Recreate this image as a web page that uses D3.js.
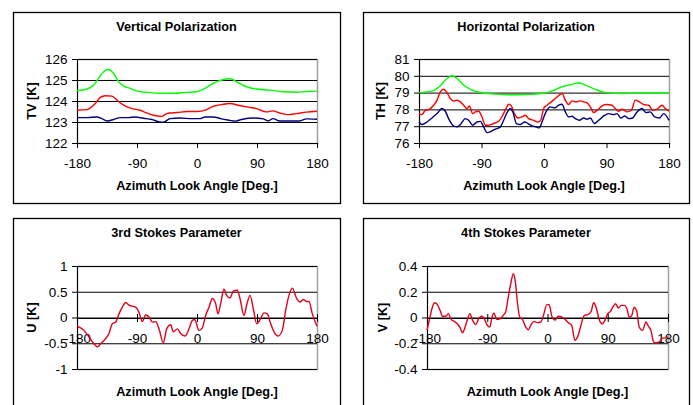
<!DOCTYPE html>
<meta charset="utf-8">
<title>Polarization and Stokes parameters vs azimuth look angle</title>

<style>
	body {
		margin: 0;
		background: #fff;
		font-family: 'Liberation Sans', Arial, sans-serif;
	}

	.titre,
	.axe-titre {
		font-weight: bold;
		font-size: 12.7px;
	}

	.tick text {
		font-size: 13.5px;
		fill: #000;
	}
</style>

<body>
	<div id="chart"></div>

	<script src="https://d3js.org/d3.v7.min.js"></script>
	<script>
		// ---- DATA ----
		var azimuthTicks = [-180, -90, 0, 90, 180];
		var tvTicks = [122, 123, 124, 125, 126];
		var thTicks = [76, 77, 78, 79, 80, 81];
		var uTicks = [-1, -0.5, 0, 0.5, 1];
		var vTicks = [-0.4, -0.2, 0, 0.2, 0.4];

		// [azimuth, value]
		var tvGreen = [[-180, 124.49], [-165, 124.57], [-155, 124.76], [-147.6, 125.08], [-140, 125.39], [-132.6, 125.5],
			[-125, 125.31], [-117.7, 124.92], [-110, 124.71], [-100, 124.6], [-90, 124.47], [-75, 124.41], [-55, 124.37],
			[-35, 124.37], [-15.5, 124.41], [-0.5, 124.44], [12, 124.6], [24.4, 124.84], [36.9, 125.0], [49.4, 125.06],
			[61.8, 124.87], [74.3, 124.68], [89.3, 124.57], [109, 124.52], [129, 124.44], [149, 124.42], [164, 124.45],
			[180, 124.47]];
		var tvRed = [[-180, 123.56], [-165, 123.59], [-152.6, 123.88], [-145, 124.17], [-137.6, 124.25], [-127.6, 124.23],
			[-120, 124.04], [-110, 123.8], [-97.7, 123.64], [-85.3, 123.56], [-75.3, 123.43], [-65.3, 123.32], [-52.9, 123.27],
			[-45.4, 123.4], [-40.4, 123.43], [-30.4, 123.45], [-15.5, 123.5], [-0.5, 123.5], [14.5, 123.59], [24.4, 123.75],
			[36.9, 123.83], [49.4, 123.88], [61.8, 123.8], [74.3, 123.72], [89.3, 123.64], [104, 123.48], [114, 123.53],
			[124, 123.43], [136.6, 123.35], [149, 123.4], [164, 123.47], [180, 123.51]];
		var tvBlue = [[-180, 123.21], [-165, 123.21], [-150, 123.24], [-142.6, 123.16], [-135, 123.05], [-125, 123.12],
			[-115, 123.21], [-102.7, 123.21], [-92.8, 123.24], [-80.3, 123.18], [-67.8, 123.12], [-57.8, 123.02],
			[-50.3, 122.99], [-40.4, 123.16], [-25.4, 123.19], [-8, 123.16], [4.5, 123.16], [12, 123.24], [24.4, 123.24],
			[36.9, 123.15], [49.4, 123.08], [56.8, 123.04], [66.8, 123.12], [84.3, 123.19], [99.2, 123.15], [106.7, 123.05],
			[114, 123.16], [124, 123.05], [139, 123.05], [154, 123.05], [164, 123.15], [180, 123.13]];

		var thGreen = [[-180, 79.0], [-161.3, 79.09], [-149.3, 79.41], [-139.7, 79.84], [-132.5, 80.0], [-125.3, 79.84],
			[-115.7, 79.45], [-103.7, 79.15], [-89.3, 78.99], [-70, 78.91], [-50.9, 78.87], [-26.9, 78.89], [-2.9, 78.95],
			[11.5, 79.09], [26, 79.35], [40.3, 79.49], [50, 79.57], [59.5, 79.45], [74, 79.19], [88.3, 79.0], [112, 78.95],
			[141, 78.96], [180, 78.96]];
		var thRed = [[-180, 77.75], [-175.7, 77.69], [-170.9, 77.95], [-166, 77.99], [-158.9, 78.25], [-154, 78.55],
			[-149.3, 79.04], [-144.5, 79.2], [-139.7, 79.0], [-134.9, 78.65], [-130, 78.49], [-125.3, 78.55], [-120.5, 78.45],
			[-115.7, 78.25], [-110.9, 78.05], [-107.5, 78.2], [-102.7, 77.75], [-98.9, 77.85], [-94.1, 77.89], [-89.3, 77.55],
			[-84.5, 77.06], [-79.7, 77.06], [-72.5, 77.16], [-65.3, 77.29], [-59.5, 77.65], [-54.7, 78.05], [-50.9, 78.31],
			[-47, 78.21], [-42.7, 77.75], [-37.4, 77.49], [-31.7, 77.55], [-26.9, 77.65], [-22, 77.45], [-14.9, 77.35],
			[-8.6, 77.25], [-4.8, 77.35], [-0.5, 78.05], [4.3, 78.25], [10.6, 78.45], [16.3, 78.65], [22, 78.85], [26, 78.95],
			[30.7, 78.55], [35.5, 78.29], [40.3, 78.51], [46, 78.45], [52.3, 78.51], [57.1, 78.45], [62, 78.39], [66.7, 78.15],
			[71.5, 77.81], [77.8, 77.99], [83.5, 78.21], [90.7, 78.29], [98, 78.25], [102.7, 78.05], [107.5, 77.89],
			[112.3, 78.01], [119.5, 77.85], [125.8, 77.95], [131.5, 78.55], [137.3, 78.45], [143.5, 78.29], [150.7, 78.25],
			[156.5, 77.95], [162.7, 78.01], [170, 78.25], [174.7, 78.05], [180, 77.89]];
		var thBlue = [[-180, 77.25], [-175.7, 77.1], [-168.5, 77.25], [-161.3, 77.49], [-154, 77.75], [-146.9, 78.05],
			[-142.1, 77.89], [-137.3, 77.45], [-131.5, 77.06], [-125.3, 76.96], [-120.5, 77.1], [-113.3, 77.45],
			[-108.5, 77.35], [-102.7, 77.06], [-96.5, 77.25], [-91.7, 77.29], [-86.9, 76.96], [-82.1, 76.62], [-75.8, 76.7],
			[-70, 76.82], [-62.9, 76.96], [-58.1, 77.35], [-53.3, 77.81], [-48.5, 78.05], [-44.6, 77.81], [-39.8, 77.16],
			[-34.1, 77.1], [-27.8, 77.25], [-23, 77.16], [-17.3, 77.02], [-11.5, 76.96], [-6.7, 76.9], [-2.9, 77.25],
			[2.9, 77.85], [9.1, 78.15], [15.4, 78.09], [21.1, 78.25], [26, 78.31], [30.7, 77.85], [35.5, 77.55], [40.3, 77.59],
			[45.1, 77.45], [50.9, 77.35], [57.1, 77.49], [62, 77.41], [66.7, 77.49], [72.5, 77.16], [78.7, 77.35], [86, 77.61],
			[93.1, 77.75], [100.3, 77.69], [105.1, 77.75], [110.9, 77.49], [116.2, 77.61], [122, 77.45], [127.7, 77.49],
			[134, 77.85], [141.1, 78.05], [146.9, 77.81], [153.1, 77.85], [159.4, 77.55], [166.1, 77.49], [172.3, 77.75],
			[180, 77.35]];

		var uValues = [[-180, -0.17], [-169.5, -0.25], [-162, -0.38], [-154.5, -0.51], [-149.5, -0.57], [-144.5, -0.51],
			[-137, -0.41], [-132, -0.31], [-127, -0.12], [-122, -0.09], [-117, 0.07], [-112, 0.2], [-107, 0.29], [-102, 0.24],
			[-92, 0.2], [-87, 0.1], [-82, -0.08], [-77, 0.05], [-72, 0.01], [-67, -0.09], [-62, -0.08], [-57, -0.22],
			[-50.5, -0.49], [-45.5, -0.22], [-39.5, -0.14], [-35.5, -0.28], [-29.5, -0.22], [-24.5, -0.31], [-18, -0.36],
			[-12, -0.22], [-7, -0.06], [-3.5, -0.04], [3, -0.25], [8, -0.2], [13, 0.04], [18, 0.2], [23, 0.37], [28, 0.27],
			[31.5, 0.07], [35.5, 0.27], [40.5, 0.55], [44.5, 0.43], [49.5, 0.38], [54.5, 0.51], [60.5, 0.53], [64.5, 0.37],
			[70.5, 0.04], [74.5, 0.24], [79.5, 0.43], [84.5, 0.17], [89.5, -0.12], [95.5, -0.02], [100.5, 0.09], [105.5, 0.07],
			[110.5, -0.12], [115.5, -0.28], [121.5, -0.36], [128, -0.25], [133, 0.14], [138, 0.43], [143, 0.57], [149.5, 0.37],
			[154.5, 0.3], [159.5, 0.35], [164.5, 0.31], [168, 0.31], [173, 0.07], [180, -0.17]];

		var vValues = [[-180, -0.1], [-175.5, 0.004], [-172, 0.08], [-168.5, 0.115], [-164.5, 0.1], [-160.5, 0.056],
			[-157, 0.01], [-152, 0.01], [-148, 0.03], [-144.5, -0.01], [-139.5, -0.03], [-134.5, -0.05], [-130.5, -0.08],
			[-127, -0.118], [-123, -0.074], [-119.5, -0.014], [-116, 0.03], [-112, -0.02], [-107, -0.055], [-103, -0.01],
			[-98.5, 0.01], [-95, -0.004], [-90, -0.06], [-86, -0.074], [-83.5, -0.01], [-80, 0.035], [-76, -0.014],
			[-71, -0.01], [-66, 0.017], [-62.5, 0.043], [-59, 0.146], [-55, 0.26], [-51, 0.34], [-48, 0.275], [-45, 0.12],
			[-41.5, 0.004], [-37.5, -0.014], [-32.5, -0.074], [-28.5, -0.095], [-24, -0.05], [-20, -0.03], [-15, -0.04],
			[-10, -0.035], [-6, 0.017], [-1, 0.1], [2.5, 0.1], [6.5, 0.01], [11.5, -0.02], [16, 0.01], [21, 0.004],
			[26, -0.014], [31, -0.04], [36, -0.06], [41, -0.177], [45, -0.15], [50, -0.06], [55, 0.017], [60, 0.022],
			[65, 0.043], [69, 0.115], [72.5, 0.08], [77.5, -0.02], [81.5, -0.05], [86, -0.02], [90, 0.03], [94, 0.048],
			[97.5, 0.08], [101.5, 0.107], [106, 0.074], [110, 0.094], [115, 0.094], [118.5, 0.07], [122, 0.004],
			[125.5, 0.012], [129.5, 0.08], [133, 0.056], [137, -0.074], [142, -0.1], [147, -0.035], [150.5, -0.066],
			[154.5, -0.1], [158.5, -0.19], [162, -0.196], [167, -0.19], [171, -0.16], [174.5, -0.16], [180, -0.15]];

		// ---- LAYOUT ----
		var width = 693,
			height = 405;

		var panels = [
			{
				titre: "Vertical Polarization", yTitre: "TV [K]", ticks: tvTicks,
				series: [[tvGreen, "#00ff00"], [tvRed, "#ff0000"], [tvBlue, "#000080"]],
				box: [13, 12, 327, 191], plot: [77, 59, 317, 143], yTitreX: 32, croise: false
			},
			{
				titre: "Horizontal Polarization", yTitre: "TH [K]", ticks: thTicks,
				series: [[thGreen, "#00ff00"], [thRed, "#ff0000"], [thBlue, "#000080"]],
				box: [363, 12, 326, 191], plot: [419, 59, 669, 143], yTitreX: 381, croise: false
			},
			{
				titre: "3rd Stokes Parameter", yTitre: "U [K]", ticks: uTicks,
				series: [[uValues, "#e2001a"]],
				box: [13, 218, 327, 200], plot: [77, 266, 317, 369], yTitreX: 32, croise: true
			},
			{
				titre: "4th Stokes Parameter", yTitre: "V [K]", ticks: vTicks,
				series: [[vValues, "#e2001a"]],
				box: [363, 218, 326, 200], plot: [427, 266, 668, 369], yTitreX: 383, croise: true
			}
		];

		var svg = d3.select("#chart").append("svg")
			.attr("width", width)
			.attr("height", height);

		panels.forEach(drawPanel);

		function drawPanel(p) {
			var g = svg.append("g");
			var x0 = p.plot[0], y0 = p.plot[1], x1 = p.plot[2], y1 = p.plot[3];

			var x = d3.scaleLinear().domain([-180, 180]).range([x0, x1]);
			var y = d3.scaleLinear().domain(d3.extent(p.ticks)).range([y1, y0]);

			// outer frame
			g.append("rect")
				.attr("x", p.box[0] + 0.5)
				.attr("y", p.box[1] + 0.5)
				.attr("width", p.box[2])
				.attr("height", p.box[3])
				.attr("fill", "#fff")
				.attr("stroke", "#000")
				.attr("stroke-width", 1.3);

			// plot area border (grey)
			g.append("rect")
				.attr("x", x0 + 0.5)
				.attr("y", y0 + 0.5)
				.attr("width", x1 - x0)
				.attr("height", y1 - y0)
				.attr("fill", "none")
				.attr("stroke", "#a0a0a0")
				.attr("stroke-width", 1.5);

			// horizontal gridlines
			g.append("g")
				.attr("transform", "translate(" + x0 + ",0)")
				.call(d3.axisLeft(y).tickValues(p.ticks).tickSize(-(x1 - x0)).tickFormat(""))
				.call(function (a) { a.select(".domain").remove(); })
				.selectAll("line").attr("stroke", "#000");

			// y axis
			var yAxe = g.append("g")
				.attr("transform", "translate(" + x0 + ",0)")
				.call(d3.axisLeft(y).tickValues(p.ticks).tickSize(5).tickPadding(5).tickSizeOuter(0).tickFormat(String));
			yAxe.attr("font-family", null).attr("font-size", null);
			yAxe.selectAll(".tick text").attr("x", -9.5);

			// x axis: at bottom, or crossing at zero for the Stokes panels
			var axeY = p.croise ? Math.round(y(0)) : y1;
			var xAxe = g.append("g")
				.attr("transform", "translate(0," + axeY + ")")
				.call(d3.axisBottom(x).tickValues(azimuthTicks).tickSize(5).tickSizeOuter(0).tickFormat(String));
			xAxe.attr("font-family", null).attr("font-size", null);
			xAxe.selectAll(".tick text").attr("y", 25).attr("dy", 0);
			if (p.croise) {
				xAxe.selectAll(".tick line").attr("y1", -4).attr("y2", 4);
			}

			// titles
			g.append("text")
				.attr("class", "titre")
				.attr("x", p.box[0] + p.box[2] / 2)
				.attr("y", p.box[1] + 19)
				.attr("text-anchor", "middle")
				.text(p.titre);

			g.append("text")
				.attr("class", "axe-titre")
				.attr("x", (x0 + x1) / 2)
				.attr("y", p.croise ? 396 : 190)
				.attr("text-anchor", "middle")
				.text("Azimuth Look Angle [Deg.]");

			g.append("text")
				.attr("class", "axe-titre")
				.attr("transform", "translate(" + p.yTitreX + "," + (y0 + y1) / 2 + ") rotate(-90)")
				.attr("text-anchor", "middle")
				.attr("dominant-baseline", "central")
				.text(p.yTitre);

			// series
			var ligne = d3.line()
				.x(function (d) { return x(d[0]); })
				.y(function (d) { return y(d[1]); })
				.curve(d3.curveMonotoneX);

			p.series.forEach(function (s) {
				g.append("path")
					.datum(s[0])
					.attr("d", ligne)
					.attr("fill", "none")
					.attr("stroke", s[1])
					.attr("stroke-width", 1.4);
			});
		}
	</script>
</body>
